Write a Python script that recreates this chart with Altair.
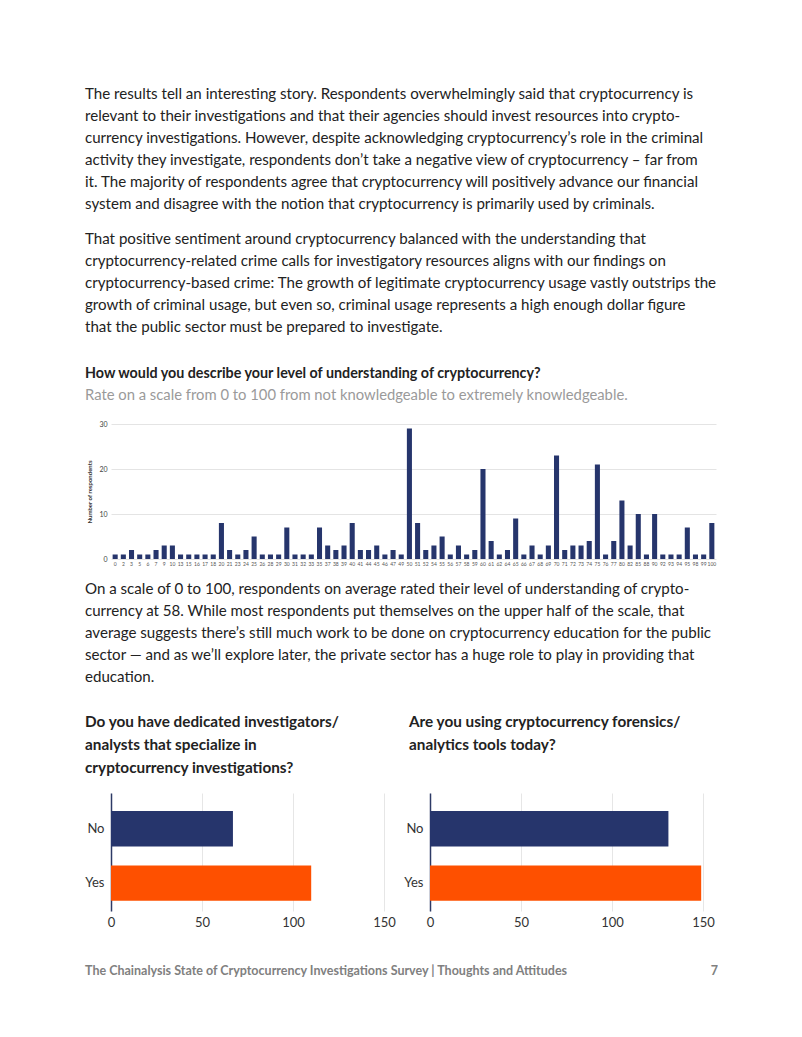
import altair as alt
import pandas as pd

FONT = "Lato"
NAVY = "#26356c"
ORANGE = "#fe5000"
TXT = "#222222"

# ---------------- data ----------------
p1_lines = [
    "The results tell an interesting story. Respondents overwhelmingly said that cryptocurrency is",
    "relevant to their investigations and that their agencies should invest resources into crypto-",
    "currency investigations. However, despite acknowledging cryptocurrency’s role in the criminal",
    "activity they investigate, respondents don’t take a negative view of cryptocurrency – far from",
    "it. The majority of respondents agree that cryptocurrency will positively advance our financial",
    "system and disagree with the notion that cryptocurrency is primarily used by criminals.",
]
p2_lines = [
    "That positive sentiment around cryptocurrency balanced with the understanding that",
    "cryptocurrency-related crime calls for investigatory resources aligns with our findings on",
    "cryptocurrency-based crime: The growth of legitimate cryptocurrency usage vastly outstrips the",
    "growth of criminal usage, but even so, criminal usage represents a high enough dollar figure",
    "that the public sector must be prepared to investigate.",
]
hist_title = ["How would you describe your level of understanding of cryptocurrency?"]
hist_subtitle = ["Rate on a scale from 0 to 100 from not knowledgeable to extremely knowledgeable."]
p3_lines = [
    "On a scale of 0 to 100, respondents on average rated their level of understanding of crypto-",
    "currency at 58. While most respondents put themselves on the upper half of the scale, that",
    "average suggests there’s still much work to be done on cryptocurrency education for the public",
    "sector — and as we’ll explore later, the private sector has a huge role to play in providing that",
    "education.",
]
q1_title = ["Do you have dedicated investigators/", "analysts that specialize in", "cryptocurrency investigations?"]
q2_title = ["Are you using cryptocurrency forensics/", "analytics tools today?"]
footer_left = ["The Chainalysis State of Cryptocurrency Investigations Survey | Thoughts and Attitudes"]
footer_right = ["7"]

scores = ["0", "2", "3", "5", "6", "7", "9", "10", "13", "15",
          "16", "17", "18", "20", "21", "23", "24", "25", "26", "28",
          "29", "30", "31", "32", "33", "35", "37", "38", "39", "40",
          "41", "44", "45", "46", "47", "49", "50", "51", "52", "54",
          "55", "56", "57", "58", "59", "60", "61", "62", "64", "65",
          "66", "67", "68", "69", "70", "71", "72", "73", "74", "75",
          "76", "77", "80", "82", "85", "88", "90", "92", "93", "94",
          "95", "98", "99", "100"]
respondents = [1, 1, 2, 1, 1, 2, 3, 3, 1, 1,
               1, 1, 1, 8, 2, 1, 2, 5, 1, 1,
               1, 7, 1, 1, 1, 7, 3, 2, 3, 8,
               2, 2, 3, 1, 2, 1, 29, 8, 2, 3,
               5, 1, 3, 1, 2, 20, 4, 1, 2, 9,
               1, 3, 1, 3, 23, 2, 3, 3, 4, 21,
               1, 4, 13, 3, 10, 1, 10, 1, 1, 1,
               7, 1, 1, 8]

answers = ["No", "Yes"]
q1_counts = [67, 110]
q2_counts = [131, 149]

BODY = 15.1


def text_block(lines, x, y, size, color=TXT, weight="normal", lh=22, align="left"):
    df = pd.DataFrame({"t": ["\n".join(lines)]})
    return alt.Chart(df).mark_text(
        align=align, baseline="top", lineBreak="\n", lineHeight=lh,
        fontSize=size, fontWeight=weight, color=color, font=FONT,
    ).encode(x=alt.value(x), y=alt.value(y), text="t:N")


W = 605

# block A: paragraphs + histogram heading
blockA = alt.layer(
    text_block(p1_lines, -26, 79, BODY),
    text_block(p2_lines, -26, 224, BODY),
    text_block(hist_title, -26, 359, 14.3, weight="bold"),
    text_block(hist_subtitle, -26, 380, 14.8, color="#9a9a9a"),
).properties(width=W, height=416)

# histogram
hist_df = pd.DataFrame({"score": scores, "n": respondents})
hist = alt.Chart(hist_df).mark_bar(color=NAVY).encode(
    x=alt.X("score:N", sort=scores, title=None,
            scale=alt.Scale(paddingInner=0.38, paddingOuter=0.2),
            axis=alt.Axis(labelAngle=0, labelFontSize=5, labelColor="#555", domain=False,
                          ticks=False, labelPadding=2, grid=False)),
    y=alt.Y("n:Q", title="Number of respondents",
            scale=alt.Scale(domain=[0, 30], nice=False),
            axis=alt.Axis(values=[0, 10, 20, 30], labelFontSize=7, labelColor="#444",
                          domain=False, ticks=False, labelPadding=4,
                          gridColor="#e4e4e4", titleFontSize=6, titleFontWeight="bold",
                          titleColor="#333", titlePadding=6)),
).properties(width=W, height=135)

# block B: paragraph + bar-chart questions
blockB = alt.layer(
    text_block(p3_lines, -26, 23, BODY),
    text_block(q1_title, -26, 156, 15.3, weight="bold", lh=23),
    text_block(q2_title, 298, 156, 15.3, weight="bold", lh=23),
).properties(width=W, height=234)


def bar_chart(counts, footer=None):
    df = pd.DataFrame({"answer": answers, "count": counts})
    bars = alt.Chart(df).mark_bar().encode(
        y=alt.Y("answer:N", sort=answers, title=None,
                scale=alt.Scale(paddingInner=0.35, paddingOuter=0.26, align=0.64),
                axis=alt.Axis(domain=True, domainColor="#2d3a66", domainWidth=1.5,
                              ticks=False, labelFontSize=13, labelColor="#333",
                              labelPadding=7)),
        x=alt.X("count:Q", title=None, scale=alt.Scale(domain=[0, 150], nice=False),
                axis=alt.Axis(values=[0, 50, 100, 150], grid=True, gridColor="#e6e6e6",
                              domain=False, ticks=False, labelFontSize=13, labelFlush=False,
                              labelColor="#333", labelPadding=5)),
        color=alt.Color("answer:N", scale=alt.Scale(domain=answers, range=[NAVY, ORANGE]),
                        legend=None),
    )
    layers = [bars]
    if footer is not None:
        layers += footer
    return alt.layer(*layers).properties(width=273, height=118)


left_bar = bar_chart(q1_counts, [
    text_block(footer_left, -26, 172, 12.5, color="#808080", weight="bold"),
])
right_bar = bar_chart(q2_counts, [
    text_block(footer_right, 288, 172, 12.5, color="#808080", weight="bold", align="right"),
])

bottom = alt.hconcat(left_bar, right_bar, spacing=46, bounds="flush")

chart = alt.vconcat(blockA, hist, blockB, bottom, spacing=0, bounds="flush").properties(
    padding={"left": 76, "top": 0, "right": 0, "bottom": 0},
    background="white",
).configure(font=FONT).configure_view(strokeWidth=0)

chart.save("out.html", embed_options={"renderer": "svg", "actions": False})
